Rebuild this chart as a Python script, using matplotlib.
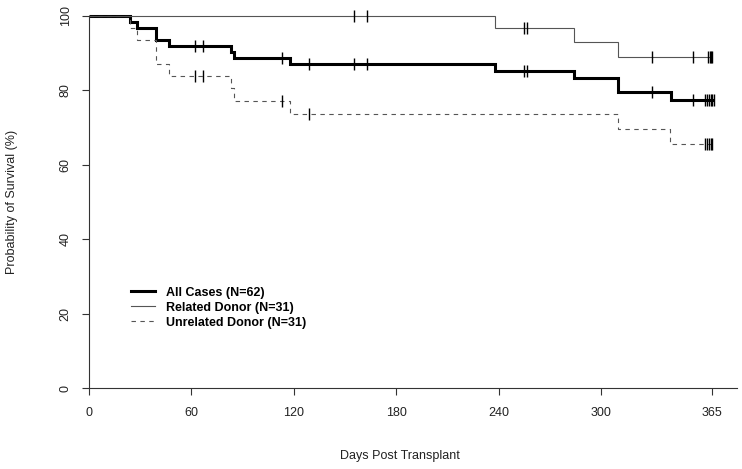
import numpy as np
import matplotlib
matplotlib.use("Agg")
import matplotlib.pyplot as plt
from matplotlib.lines import Line2D

plt.rcParams['font.family'] = ['Liberation Sans', 'DejaVu Sans']

# ---- data ----
end_day = 365

all_times = [0, 24, 28, 39, 47, 83, 85, 118, 238, 284, 310, 341]
all_surv = [100, 98.4, 96.8, 93.5, 91.9, 90.3, 88.7, 87.1, 85.2, 83.3, 79.5, 77.5]

rel_times = [0, 238, 284, 310]
rel_surv = [100, 96.8, 93.0, 89.1]

unrel_times = [0, 24, 28, 39, 47, 83, 85, 118, 310, 340]
unrel_surv = [100, 96.8, 93.5, 87.1, 83.9, 80.6, 77.1, 73.6, 69.6, 65.7]

rel_cens = [155, 163, 255, 256.5, 330, 354, 362.5, 363.5, 364.5, 365]
unrel_cens = [62, 67, 113, 129, 361, 362, 363, 364, 365]
all_cens = [62, 67, 113, 129, 155, 163, 255, 256.5, 330, 354, 361, 362, 363, 364, 365, 366]

labels = ["All Cases (N=62)", "Related Donor (N=31)", "Unrelated Donor (N=31)"]
x_ticks = [0, 60, 120, 180, 240, 300, 365]
y_ticks = [0, 20, 40, 60, 80, 100]

# ---- figure ----
W, H = 742, 469
fig = plt.figure(figsize=(W / 100, H / 100), dpi=100)
ax = fig.add_axes([89 / W, 1 - 388 / H, (737 - 89) / W, (388 - 16) / H])
ax.set_xlim(0, 379.5)
ax.set_ylim(0, 100)


def step_at(times, surv, t):
    idx = np.searchsorted(np.asarray(times), t, side='right') - 1
    return np.asarray(surv)[idx]


styles = [
    dict(color='black', lw=2.2, ls='-'),
    dict(color='#555555', lw=0.8, ls='-'),
    dict(color='#555555', lw=0.8, ls=(0, (4, 4))),
]
groups = [(all_times, all_surv, all_cens),
          (rel_times, rel_surv, rel_cens),
          (unrel_times, unrel_surv, unrel_cens)]

for (t, s, c), st in zip(groups, styles):
    tt = list(t) + [max(end_day, max(c))]
    ss = list(s) + [s[-1]]
    ax.step(tt, ss, where='post', clip_on=False, solid_capstyle='butt',
            solid_joinstyle='miter', **st)
    cy = step_at(t, s, np.asarray(c))
    ax.plot(c, cy, ls='none', marker='|', markersize=8.5, mew=1.0,
            color='black', clip_on=False)

for sp in ['top', 'right']:
    ax.spines[sp].set_visible(False)
for sp in ['left', 'bottom']:
    ax.spines[sp].set_color('#333333')
    ax.spines[sp].set_linewidth(0.8)

ax.set_xticks(x_ticks)
ax.set_xticklabels([str(v) for v in x_ticks])
ax.set_yticks(y_ticks)
ax.set_yticklabels([str(v) for v in y_ticks], rotation=90, va='center')
ax.tick_params(direction='out', length=5, width=0.8, color='#333333',
               labelsize=9, labelcolor='#222222', pad=7.5)
ax.tick_params(axis='x', pad=8.5)

fig.text(400 / W, 1 - 456 / H, "Days Post Transplant", ha='center', va='center',
         fontsize=9, color='#222222')
fig.text(12.5 / W, 1 - 202 / H, "Probability of Survival (%)", ha='center',
         va='center', rotation=90, fontsize=9, color='#222222')

handles = [Line2D([], [], **st) for st in styles]
leg = ax.legend(handles, labels, loc='upper left',
                bbox_to_anchor=(131 / W, 1 - 286.5 / H),
                bbox_transform=fig.transFigure, frameon=False,
                handlelength=1.9, handletextpad=0.9, borderpad=0,
                borderaxespad=0, labelspacing=0.24,
                prop=dict(size=9, weight='bold'))

fig.savefig("out.png", dpi=100)
